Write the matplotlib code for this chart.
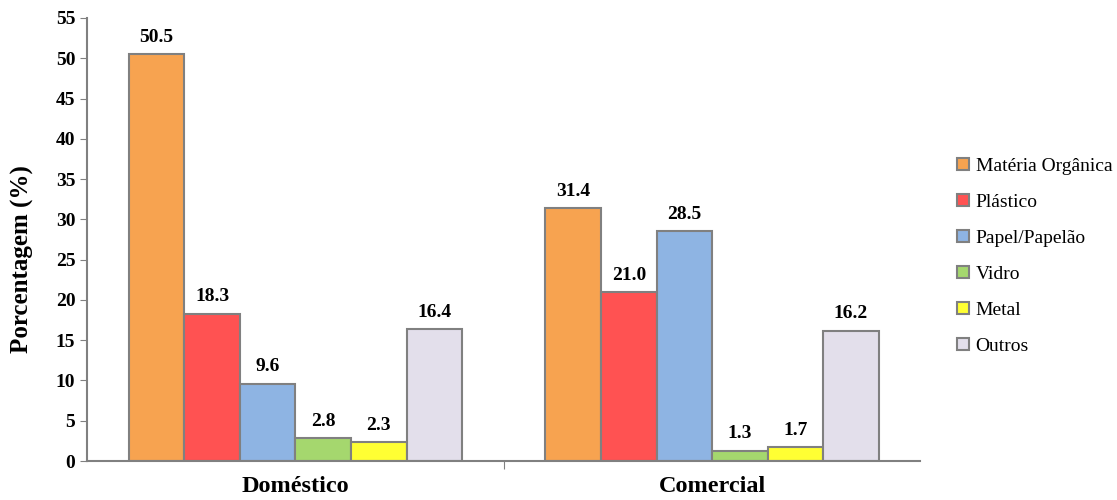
import matplotlib.pyplot as plt
import numpy as np

plt.rcParams['font.family'] = ['Liberation Serif', 'DejaVu Serif']

categorias = ['Doméstico', 'Comercial']
materiais = ['Matéria Orgânica', 'Plástico', 'Papel/Papelão', 'Vidro', 'Metal', 'Outros']
valores = {
    'Matéria Orgânica': [50.5, 31.4],
    'Plástico': [18.3, 21.0],
    'Papel/Papelão': [9.6, 28.5],
    'Vidro': [2.8, 1.3],
    'Metal': [2.3, 1.7],
    'Outros': [16.4, 16.2],
}
cores = ['#F7A350', '#FF5252', '#8EB4E3', '#A5D76E', '#FFFF33', '#E3DFEB']

fig = plt.figure(figsize=(11.17, 5), dpi=100)
ax = fig.add_axes([0.078, 0.078, 0.746, 0.886])

x = np.arange(len(categorias))
n = len(materiais)
w = 0.8 / n
for i, (mat, cor) in enumerate(zip(materiais, cores)):
    pos = x - 0.4 + w * (i + 0.5)
    bars = ax.bar(pos, valores[mat], w, color=cor, edgecolor='#808080', linewidth=1.5, label=mat)
    for b, v in zip(bars, valores[mat]):
        ax.annotate(f"{v:.1f}", (b.get_x() + b.get_width() / 2, v), xytext=(0, 6),
                    textcoords='offset points', ha='center', va='bottom',
                    fontsize=14, fontweight='bold')

ax.set_xlim(-0.5, 1.5)
ax.set_ylim(0, 55)
ax.set_yticks(range(0, 56, 5))
ax.set_xticks([0.5])
ax.set_xticklabels([''])
ax.tick_params(axis='x', length=6, direction='out', color='#808080')
ax.tick_params(axis='y', length=5, color='#808080', labelsize=14)
for lab in ax.get_yticklabels():
    lab.set_fontweight('bold')
for c, nome in zip(x, categorias):
    ax.text(c, -1.9, nome, ha='center', va='top', fontsize=17.5, fontweight='bold')

ax.set_ylabel('Porcentagem (%)', fontsize=18, fontweight='bold')
ax.yaxis.set_label_coords(-0.064, 0.455)
for s in ['top', 'right']:
    ax.spines[s].set_visible(False)
for s in ['left', 'bottom']:
    ax.spines[s].set_color('#808080')
    ax.spines[s].set_linewidth(1.5)

fig.legend(loc='upper left', bbox_to_anchor=(0.857, 0.685), frameon=False,
           fontsize=14, handlelength=0.6, handleheight=0.6, handletextpad=0.35,
           labelspacing=0.98, borderaxespad=0, borderpad=0)

fig.savefig('out.png', dpi=100)
